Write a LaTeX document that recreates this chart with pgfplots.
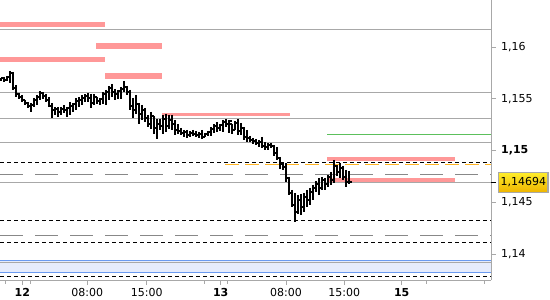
\documentclass[border=0pt]{standalone}
\usepackage{fontspec}
\setmainfont{DejaVu Sans}
\usepackage{pgfplots}
\pgfplotsset{compat=1.18}
\usepackage{pgfplotstable}
\definecolor{pinkz}{HTML}{FF9898}
\definecolor{gridg}{HTML}{A8A8A8}
\definecolor{dashg}{HTML}{888888}
\definecolor{orangez}{HTML}{FFB422}
\definecolor{greenz}{HTML}{5CC05C}
\definecolor{bluez}{HTML}{6A9AF0}
\definecolor{bandz}{HTML}{E6ECFC}
\definecolor{boxtop}{HTML}{FFEE2A}
\definecolor{boxbot}{HTML}{EEB400}
\pgfdeclareplotmark{otick}{\pgfpathmoveto{\pgfpoint{-2.8bp}{0pt}}\pgfpathlineto{\pgfpoint{0pt}{0pt}}\pgfusepathqstroke}
\pgfdeclareplotmark{ctick}{\pgfpathmoveto{\pgfpoint{0pt}{0pt}}\pgfpathlineto{\pgfpoint{2.8bp}{0pt}}\pgfusepathqstroke}
\pgfplotstableread{
x o h l c
1 1.15684 1.15703 1.15674 1.15703
4 1.15703 1.15713 1.15665 1.15684
7 1.15684 1.15723 1.15674 1.15713
10 1.15713 1.15771 1.15655 1.15752
13 1.15752 1.15761 1.15587 1.15607
16 1.15607 1.15636 1.15520 1.15549
19 1.15549 1.15558 1.15500 1.15520
22 1.15520 1.15539 1.15471 1.15491
25 1.15491 1.15491 1.15442 1.15462
28 1.15462 1.15471 1.15413 1.15433
31 1.15433 1.15462 1.15375 1.15442
34 1.15442 1.15510 1.15423 1.15491
37 1.15491 1.15539 1.15442 1.15520
40 1.15520 1.15578 1.15491 1.15558
43 1.15558 1.15568 1.15500 1.15529
46 1.15529 1.15549 1.15471 1.15491
49 1.15491 1.15520 1.15423 1.15433
52 1.15433 1.15462 1.15317 1.15394
55 1.15394 1.15423 1.15346 1.15404
58 1.15404 1.15423 1.15327 1.15375
61 1.15375 1.15423 1.15346 1.15404
64 1.15404 1.15442 1.15365 1.15394
67 1.15394 1.15423 1.15327 1.15413
70 1.15413 1.15471 1.15346 1.15433
73 1.15433 1.15462 1.15375 1.15452
76 1.15452 1.15510 1.15394 1.15481
79 1.15481 1.15520 1.15423 1.15491
82 1.15491 1.15539 1.15442 1.15510
85 1.15510 1.15549 1.15471 1.15529
88 1.15529 1.15558 1.15471 1.15510
91 1.15510 1.15549 1.15413 1.15462
94 1.15462 1.15549 1.15442 1.15520
97 1.15520 1.15520 1.15452 1.15481
100 1.15481 1.15510 1.15442 1.15500
103 1.15500 1.15568 1.15452 1.15549
106 1.15549 1.15587 1.15442 1.15568
109 1.15568 1.15626 1.15491 1.15607
112 1.15607 1.15645 1.15520 1.15568
115 1.15568 1.15597 1.15491 1.15549
118 1.15549 1.15587 1.15500 1.15578
121 1.15578 1.15616 1.15500 1.15597
124 1.15597 1.15674 1.15568 1.15616
127 1.15616 1.15626 1.15539 1.15568
130 1.15568 1.15587 1.15394 1.15433
133 1.15433 1.15510 1.15317 1.15394
136 1.15394 1.15539 1.15356 1.15452
139 1.15452 1.15462 1.15259 1.15356
142 1.15356 1.15442 1.15298 1.15394
145 1.15394 1.15413 1.15278 1.15317
148 1.15317 1.15346 1.15230 1.15259
151 1.15259 1.15375 1.15211 1.15336
154 1.15336 1.15336 1.15162 1.15220
157 1.15220 1.15307 1.15114 1.15259
160 1.15259 1.15307 1.15201 1.15240
163 1.15240 1.15346 1.15162 1.15307
166 1.15307 1.15356 1.15182 1.15240
169 1.15240 1.15346 1.15211 1.15298
172 1.15298 1.15346 1.15201 1.15259
175 1.15259 1.15298 1.15153 1.15201
178 1.15201 1.15259 1.15162 1.15191
181 1.15191 1.15220 1.15153 1.15172
184 1.15172 1.15201 1.15133 1.15182
187 1.15182 1.15201 1.15124 1.15153
190 1.15153 1.15191 1.15133 1.15172
193 1.15172 1.15201 1.15143 1.15162
196 1.15162 1.15191 1.15133 1.15153
199 1.15153 1.15182 1.15124 1.15162
202 1.15162 1.15201 1.15114 1.15133
205 1.15133 1.15172 1.15133 1.15162
208 1.15162 1.15191 1.15143 1.15182
211 1.15182 1.15230 1.15143 1.15211
214 1.15211 1.15259 1.15172 1.15240
217 1.15240 1.15278 1.15182 1.15220
220 1.15220 1.15259 1.15191 1.15249
223 1.15249 1.15298 1.15182 1.15278
226 1.15278 1.15307 1.15230 1.15259
229 1.15259 1.15298 1.15172 1.15288
232 1.15259 1.15259 1.15162 1.15201
235 1.15201 1.15288 1.15201 1.15269
238 1.15269 1.15307 1.15153 1.15191
241 1.15191 1.15269 1.15153 1.15220
244 1.15220 1.15230 1.15104 1.15133
247 1.15133 1.15201 1.15085 1.15124
250 1.15124 1.15143 1.15085 1.15104
253 1.15104 1.15124 1.15066 1.15095
256 1.15095 1.15114 1.15056 1.15075
259 1.15075 1.15104 1.15037 1.15085
262 1.15085 1.15133 1.15027 1.15046
265 1.15046 1.15085 1.15008 1.15037
268 1.15037 1.15075 1.15008 1.15056
271 1.15056 1.15075 1.15027 1.15046
274 1.15046 1.15056 1.14950 1.14979
277 1.14979 1.15037 1.14911 1.14930
280 1.14930 1.14940 1.14824 1.14872
283 1.14872 1.14882 1.14814 1.14843
286 1.14843 1.14882 1.14698 1.14737
289 1.14737 1.14747 1.14573 1.14592
292 1.14592 1.14621 1.14457 1.14476
295 1.14476 1.14592 1.14312 1.14409
298 1.14409 1.14573 1.14389 1.14525
301 1.14525 1.14583 1.14380 1.14457
304 1.14457 1.14592 1.14409 1.14554
307 1.14554 1.14621 1.14457 1.14525
310 1.14525 1.14641 1.14476 1.14602
313 1.14602 1.14670 1.14525 1.14641
316 1.14641 1.14708 1.14602 1.14679
319 1.14679 1.14737 1.14573 1.14641
322 1.14641 1.14747 1.14621 1.14718
325 1.14718 1.14737 1.14621 1.14679
328 1.14679 1.14766 1.14650 1.14747
331 1.14747 1.14795 1.14670 1.14718
334 1.14718 1.14911 1.14689 1.14853
337 1.14853 1.14863 1.14756 1.14795
340 1.14795 1.14882 1.14737 1.14834
343 1.14834 1.14853 1.14718 1.14747
346 1.14747 1.14814 1.14650 1.14698
349 1.14698 1.14805 1.14679 1.14694
}\bars
\begin{document}
\begin{tikzpicture}
\begin{axis}[
  at={(0,0)}, anchor=south west,
  scale only axis, width=491bp, height=280bp,
  xmin=0, xmax=491, ymin=1.137507, ymax=1.16456,
  axis x line*=bottom, axis y line*=right,
  axis line style={draw=gridg, line width=1bp},
  tick align=outside, major tick length=5bp, minor tick length=3.5bp,
  tick style={draw=gridg, line width=1bp},
  xtick={22.3,87.3,146.7,220.7,286,344.3,401.7},
  xticklabels={\textbf{12},08:00,15:00,\textbf{13},08:00,15:00,\textbf{15}},
  minor xtick={5,30,204,227.7,426,484},
  ytick={1.14,1.145,1.15,1.155,1.16},
  yticklabels={{1,14},{1,145},{\textbf{1,15}},{1,155},{1,16}},
  ticklabel style={font=\fontsize{11bp}{13bp}\selectfont, inner sep=0pt, text=black},
  xticklabel style={anchor=north, yshift=-3bp},
  yticklabel style={anchor=west, xshift=5bp},
  extra y ticks={1.14694}, extra y tick labels={1{,}14694},
  extra y tick style={major tick style={draw=black, line width=1.2bp},
    yticklabel style={draw=gridg, line width=1.2bp, top color=boxtop, bottom color=boxbot,
      inner xsep=2bp, inner ysep=0pt, minimum height=20bp, xshift=-3bp}},
  clip mode=individual,
]
% light blue band
\addplot[bandz, line width=12bp, forget plot] coordinates {(0,1.13884) (491,1.13884)};
% gray solid levels
\addplot[gridg, line width=1bp, forget plot] coordinates {(0,1.16174) (491,1.16174)};
\addplot[gridg, line width=1bp, forget plot] coordinates {(0,1.15565) (491,1.15565)};
\addplot[gridg, line width=1bp, forget plot] coordinates {(0,1.15307) (491,1.15307)};
\addplot[gridg, line width=1bp, forget plot] coordinates {(0,1.15082) (491,1.15082)};
\addplot[gridg, line width=1bp, forget plot] coordinates {(0,1.14694) (491,1.14694)};
\addplot[gridg, line width=1bp, forget plot] coordinates {(0,1.13923) (491,1.13923)};
% blue band edges
\addplot[bluez, line width=1bp, forget plot] coordinates {(0,1.13942) (491,1.13942)};
\addplot[bluez, line width=1bp, forget plot] coordinates {(0,1.13826) (491,1.13826)};
% green level
\addplot[greenz, line width=1bp, forget plot] coordinates {(327,1.15153) (491,1.15153)};
% dashed levels
\addplot[black, line width=1bp, dash pattern=on 4bp off 3bp, forget plot] coordinates {(0,1.14889) (491,1.14889)};
\addplot[orangez, line width=1bp, dash pattern=on 14bp off 6bp, forget plot] coordinates {(225,1.14868) (491,1.14868)};
\addplot[dashg, line width=1bp, dash pattern=on 23bp off 12bp, forget plot] coordinates {(0,1.14773) (491,1.14773)};
\addplot[dashg, line width=1bp, dash pattern=on 23bp off 12bp, forget plot] coordinates {(0,1.14177) (491,1.14177)};
\addplot[black, line width=1bp, dash pattern=on 4bp off 3bp, forget plot] coordinates {(0,1.14322) (491,1.14322)};
\addplot[black, line width=1bp, dash pattern=on 4bp off 3bp, forget plot] coordinates {(0,1.14116) (491,1.14116)};
\addplot[black, line width=1bp, dash pattern=on 4bp off 3bp, forget plot] coordinates {(0,1.13787) (491,1.13787)};
% pink zones
\addplot[pinkz, line width=5bp, forget plot] coordinates {(0,1.16220) (105,1.16220)};
\addplot[pinkz, line width=6bp, forget plot] coordinates {(96,1.16013) (162,1.16013)};
\addplot[pinkz, line width=5bp, forget plot] coordinates {(0,1.15882) (105,1.15882)};
\addplot[pinkz, line width=6bp, forget plot] coordinates {(105,1.15723) (162,1.15723)};
\addplot[pinkz, line width=3bp, forget plot] coordinates {(162,1.15351) (290,1.15351)};
\addplot[pinkz, line width=4bp, forget plot] coordinates {(327,1.14921) (455,1.14921)};
\addplot[pinkz, line width=4bp, forget plot] coordinates {(327,1.14718) (455,1.14718)};
% OHLC bars: high-low as quiver segments
\addplot[black, line width=2.6bp, forget plot, point meta=none,
  quiver={u=0, v={\thisrow{l}-\thisrow{h}}, every arrow/.append style={line width=2.6bp, draw=black}}]
  table[x=x, y=h] {\bars};
\addplot[only marks, mark=otick, mark options={draw=black, line width=2bp}, forget plot]
  table[x=x, y=o] {\bars};
\addplot[only marks, mark=ctick, mark options={draw=black, line width=2bp}, forget plot]
  table[x=x, y=c] {\bars};
\node[anchor=west, inner sep=0pt, font=\fontsize{11bp}{13bp}\selectfont] at (axis cs:491,1.165) [xshift=10bp] {1,165};
\end{axis}
\pgfresetboundingbox
\useasboundingbox (0,-20bp) rectangle (550bp,280bp);
\end{tikzpicture}
\end{document}
